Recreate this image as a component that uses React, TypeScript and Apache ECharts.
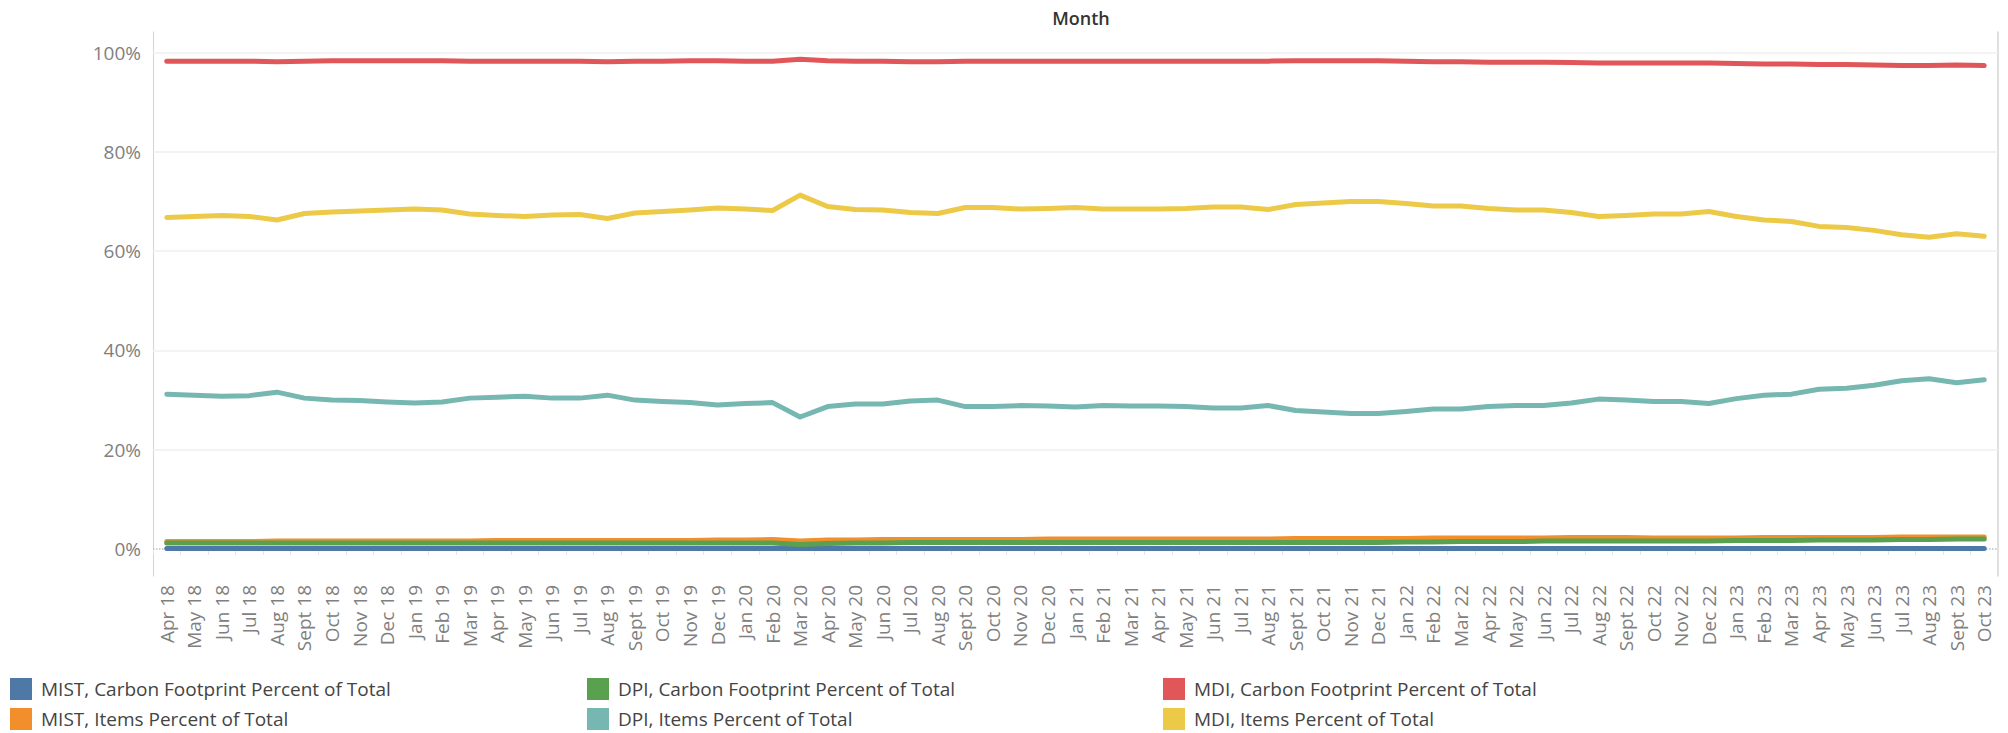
import React, { useEffect, useRef } from "react";
import * as echarts from "echarts";

const months = [
  "Apr 18","May 18","Jun 18","Jul 18","Aug 18","Sept 18","Oct 18","Nov 18","Dec 18",
  "Jan 19","Feb 19","Mar 19","Apr 19","May 19","Jun 19","Jul 19","Aug 19","Sept 19","Oct 19","Nov 19","Dec 19",
  "Jan 20","Feb 20","Mar 20","Apr 20","May 20","Jun 20","Jul 20","Aug 20","Sept 20","Oct 20","Nov 20","Dec 20",
  "Jan 21","Feb 21","Mar 21","Apr 21","May 21","Jun 21","Jul 21","Aug 21","Sept 21","Oct 21","Nov 21","Dec 21",
  "Jan 22","Feb 22","Mar 22","Apr 22","May 22","Jun 22","Jul 22","Aug 22","Sept 22","Oct 22","Nov 22","Dec 22",
  "Jan 23","Feb 23","Mar 23","Apr 23","May 23","Jun 23","Jul 23","Aug 23","Sept 23","Oct 23",
];

const mistCarbon = [
  0.1,0.1,0.1,0.1,0.1,0.1,0.1,0.1,0.1,0.1,0.1,0.1,0.1,0.1,0.1,0.1,0.1,0.1,0.1,0.1,
  0.1,0.1,0.1,0.1,0.1,0.1,0.1,0.1,0.1,0.1,0.1,0.1,0.1,0.1,0.1,0.1,0.1,0.1,0.1,0.1,
  0.1,0.1,0.1,0.1,0.1,0.1,0.1,0.1,0.1,0.1,0.1,0.1,0.1,0.1,0.1,0.1,0.1,0.1,0.1,0.1,
  0.1,0.1,0.1,0.1,0.1,0.1,0.1,
];

const mistItems = [
  1.5,1.5,1.5,1.5,1.6,1.6,1.6,1.6,1.6,1.6,1.6,1.6,1.7,1.7,1.7,1.7,1.7,1.7,1.7,1.7,
  1.8,1.8,1.9,1.6,1.8,1.8,1.9,1.9,1.9,1.9,1.9,1.9,2.0,2.0,2.0,2.0,2.0,2.0,2.0,2.0,
  2.0,2.1,2.1,2.1,2.1,2.1,2.2,2.2,2.2,2.2,2.2,2.3,2.3,2.3,2.2,2.2,2.2,2.2,2.3,2.3,
  2.3,2.3,2.3,2.4,2.4,2.4,2.4,
];

const dpiCarbon = [
  1.2,1.2,1.2,1.2,1.2,1.2,1.2,1.2,1.2,1.2,1.2,1.2,1.2,1.2,1.2,1.2,1.2,1.2,1.2,1.2,
  1.2,1.2,1.2,0.9,1.1,1.2,1.2,1.3,1.3,1.3,1.3,1.3,1.3,1.3,1.3,1.3,1.3,1.3,1.3,1.3,
  1.3,1.3,1.3,1.3,1.3,1.4,1.4,1.5,1.5,1.5,1.6,1.6,1.6,1.6,1.6,1.6,1.6,1.7,1.7,1.7,
  1.8,1.8,1.8,1.9,1.9,2.0,2.0,
];

const dpiItems = [
  31.2,31.0,30.8,30.9,31.6,30.4,30.0,29.9,29.6,29.4,29.6,30.4,30.6,30.8,30.4,30.4,31.0,30.0,29.7,29.5,
  29.0,29.3,29.5,26.6,28.7,29.2,29.2,29.8,30.0,28.7,28.7,28.9,28.8,28.6,28.9,28.8,28.8,28.7,28.4,28.4,
  28.9,27.9,27.6,27.3,27.3,27.7,28.2,28.2,28.7,28.9,28.9,29.4,30.2,30.0,29.7,29.7,29.3,30.3,31.0,31.2,
  32.2,32.4,33.0,33.9,34.3,33.5,34.1,
];

const mdiCarbon = [
  98.3,98.3,98.3,98.3,98.2,98.3,98.4,98.4,98.4,98.4,98.4,98.3,98.3,98.3,98.3,98.3,98.2,98.3,98.3,98.4,
  98.4,98.3,98.3,98.7,98.4,98.3,98.3,98.2,98.2,98.3,98.3,98.3,98.3,98.3,98.3,98.3,98.3,98.3,98.3,98.3,
  98.3,98.4,98.4,98.4,98.4,98.3,98.2,98.2,98.1,98.1,98.1,98.0,97.9,97.9,97.9,97.9,97.9,97.8,97.7,97.7,
  97.6,97.6,97.5,97.4,97.4,97.5,97.4,
];

const mdiItems = [
  66.8,67.0,67.2,67.0,66.3,67.6,67.9,68.1,68.3,68.5,68.3,67.5,67.2,67.0,67.3,67.4,66.6,67.7,68.0,68.3,
  68.7,68.5,68.2,71.3,69.0,68.4,68.3,67.8,67.6,68.8,68.8,68.5,68.6,68.8,68.5,68.5,68.5,68.6,68.9,68.9,
  68.4,69.4,69.7,70.0,70.0,69.6,69.1,69.1,68.6,68.3,68.3,67.8,67.0,67.2,67.5,67.5,68.0,67.0,66.3,66.0,
  65.0,64.8,64.2,63.3,62.8,63.5,63.0,
];

const gridValues = [20, 40, 60, 80, 100];

const seriesNames = [
  "MIST, Carbon Footprint Percent of Total",
  "MIST, Items Percent of Total",
  "DPI, Carbon Footprint Percent of Total",
  "DPI, Items Percent of Total",
  "MDI, Carbon Footprint Percent of Total",
  "MDI, Items Percent of Total",
];
const seriesColors = ["#4e79a7", "#f28e2b", "#59a14f", "#76b7b2", "#e15759", "#edc948"];
const seriesData = [mistCarbon, mistItems, dpiCarbon, dpiItems, mdiCarbon, mdiItems];

const FONT = "'Open Sans', sans-serif";
const Y_MIN = -5.44;
const Y_MAX = 104.17;

export default function App() {
  const ref = useRef<HTMLDivElement>(null);

  useEffect(() => {
    if (!ref.current) return;
    const chart = echarts.init(ref.current, undefined, { renderer: "svg" });

    const legendBase = {
      orient: "vertical",
      top: 678,
      height: 60,
      itemWidth: 22,
      itemHeight: 22,
      itemGap: 8,
      padding: 0,
      icon: "rect",
      selectedMode: false,
      textStyle: {
        fontSize: 19,
        lineHeight: 22,
        color: "#444",
        fontFamily: FONT,
        padding: [0, 0, 0, 4],
      },
    };

    const option: any = {
      animation: false,
      backgroundColor: "#ffffff",
      title: {
        text: "Month",
        left: 1076,
        top: 4,
        textAlign: "center",
        textStyle: { fontSize: 18, fontWeight: 600, color: "#333", fontFamily: FONT },
      },
      legend: [
        { ...legendBase, left: 10, data: [seriesNames[0], seriesNames[1]] },
        { ...legendBase, left: 587, data: [seriesNames[2], seriesNames[3]] },
        { ...legendBase, left: 1163, data: [seriesNames[4], seriesNames[5]] },
      ],
      grid: { left: 153, right: 10, top: 32, bottom: 157, containLabel: false },
      xAxis: {
        type: "category",
        data: months,
        boundaryGap: true,
        axisLine: { show: false },
        axisTick: { show: true, length: 6, lineStyle: { color: "#e3e3e3" } },
        axisLabel: {
          rotate: 90,
          interval: 0,
          margin: 9,
          fontSize: 19,
          color: "#808080",
          fontFamily: FONT,
        },
        splitLine: { show: false },
      },
      yAxis: [
        {
          type: "value",
          min: Y_MIN,
          max: Y_MAX,
          axisLine: { show: true, lineStyle: { color: "#d4d4d4", width: 1 } },
          axisTick: { show: false },
          splitLine: { show: false },
          axisLabel: {
            margin: 12,
            fontSize: 19,
            color: "#808080",
            fontFamily: FONT,
            showMinLabel: false,
            showMaxLabel: false,
            formatter: (v: number) => (Math.abs(v % 20) < 1e-6 ? `${v}%` : ""),
          },
        },
        {
          type: "value",
          position: "right",
          min: Y_MIN,
          max: Y_MAX,
          axisLine: { show: true, lineStyle: { color: "#d4d4d4", width: 1.5 } },
          axisTick: { show: false },
          axisLabel: { show: false },
          splitLine: { show: false },
        },
      ],
      series: [
        {
          name: "__grid",
          type: "line",
          data: months.map(() => null),
          silent: true,
          z: 1,
          markLine: {
            silent: true,
            symbol: "none",
            z: 1,
            label: { show: false },
            data: [
              ...gridValues.map((v) => ({
                yAxis: v,
                lineStyle: { color: "#efefef", width: 1.5, type: "solid" },
              })),
              { yAxis: 0, lineStyle: { color: "#bdbdbd", width: 1.5, type: "dotted" } },
            ],
          },
        },
        ...seriesNames.map((name, i) => ({
          name,
          type: "line",
          data: seriesData[i],
          showSymbol: false,
          symbol: "none",
          smooth: false,
          z: 2 + i,
          color: seriesColors[i],
          lineStyle: { width: 5, color: seriesColors[i], cap: "round", join: "round" },
        })),
      ],
    };

    chart.setOption(option);
    return () => chart.dispose();
  }, []);

  return (
    <div
      ref={ref}
      style={{ position: "fixed", left: 0, top: 0, width: 2008, height: 733, background: "#fff" }}
    />
  );
}
